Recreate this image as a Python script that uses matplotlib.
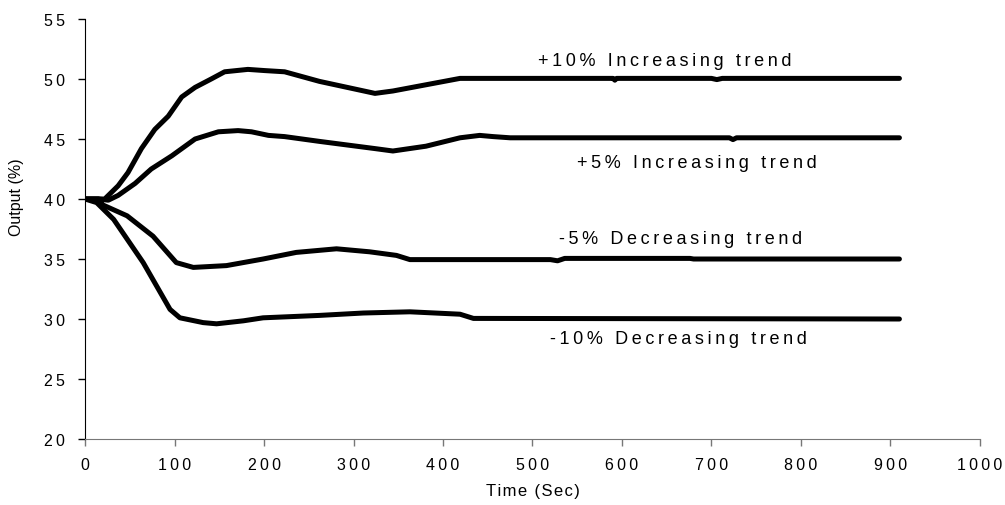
import matplotlib
matplotlib.use("Agg")
import matplotlib.pyplot as plt

plt.rcParams['font.family'] = ['Liberation Sans', 'DejaVu Sans']

# values (time in sec, output in %)
t_up10 = [0, 15, 22, 37, 48, 63, 78, 93, 108, 123, 141, 156, 182, 201, 223, 262, 324, 344, 419, 430,
          590, 592, 594, 700, 706, 712, 910]
y_up10 = [40.0, 40.0, 40.0, 41.1, 42.2, 44.2, 45.8, 46.9, 48.5, 49.3, 50.0, 50.6, 50.8, 50.7, 50.6, 49.8, 48.8, 49.0, 50.05, 50.05,
          50.05, 49.9, 50.05, 50.05, 49.95, 50.05, 50.05]

t_up5 = [0, 15, 26, 37, 56, 74, 97, 123, 149, 171, 186, 205, 223, 262, 324, 344, 381, 419, 441, 456,
         475, 720, 724, 728, 910]
y_up5 = [40.0, 40.0, 39.9, 40.3, 41.3, 42.5, 43.6, 45.0, 45.6, 45.7, 45.6, 45.3, 45.2, 44.8, 44.2, 44.0, 44.4, 45.1, 45.3, 45.2,
         45.1, 45.1, 44.95, 45.1, 45.1]

t_dn5 = [0, 15, 20, 47, 76, 102, 121, 158, 199, 236, 281, 318, 348, 363, 520, 528, 536, 676, 680, 910]
y_dn5 = [40.0, 40.0, 39.5, 38.6, 36.9, 34.7, 34.3, 34.45, 35.0, 35.55, 35.85, 35.6, 35.3, 34.95, 34.95, 34.85, 35.05, 35.05, 35.0, 35.0]

t_dn10 = [0, 13, 32, 65, 95, 106, 132, 147, 177, 199, 262, 311, 363, 419, 434, 910]
y_dn10 = [40.0, 39.7, 38.3, 34.7, 30.8, 30.1, 29.7, 29.6, 29.85, 30.1, 30.3, 30.5, 30.6, 30.4, 30.05, 30.0]

series = [(t_up10, y_up10), (t_up5, y_up5), (t_dn5, y_dn5), (t_dn10, y_dn10)]

labels = ['+10% Increasing trend', '+5% Increasing trend', '-5% Decreasing trend', '-10% Decreasing trend']
label_t = [648, 684, 665, 663]
label_y = [51.55, 43.05, 36.7, 28.4]

x_ticks = list(range(0, 1001, 100))
y_ticks = list(range(20, 56, 5))


def spaced(s, gap='\u2009'):
    # wide letter spacing like the original
    return gap.join(s)


fig = plt.figure(figsize=(10.05, 5.06), dpi=100)
ax = fig.add_axes([0.0846, 0.1304, 0.8905, 0.8301])

for t, y in series:
    ax.plot(t, y, color='black', lw=3.6, solid_capstyle='round', solid_joinstyle='round')

for txt, tx, ty in zip(labels, label_t, label_y):
    ax.text(tx, ty, spaced(txt), ha='center', va='center', fontsize=13)

ax.set_xlim(0, 1000)
ax.set_ylim(20, 55)
ax.set_xticks(x_ticks)
ax.set_xticklabels([spaced(str(v)) for v in x_ticks])
ax.set_yticks(y_ticks)
ax.set_yticklabels([spaced(str(v)) for v in y_ticks])
ax.tick_params(axis='both', direction='out', length=5, width=1, labelsize=11.5)
ax.tick_params(axis='x', colors='#777777', labelcolor='black', pad=8)
ax.tick_params(axis='y', pad=9.5)

ax.spines['top'].set_visible(False)
ax.spines['right'].set_visible(False)
ax.spines['left'].set_color('black')
ax.spines['bottom'].set_color('#777777')

ax.set_xlabel(spaced('Time (Sec)', '\u200a'), fontsize=12, labelpad=8)
ax.set_ylabel('Output (%)', fontsize=11.5)
ax.yaxis.set_label_coords(-0.068, 0.579)

fig.savefig('out.png', dpi=100)
